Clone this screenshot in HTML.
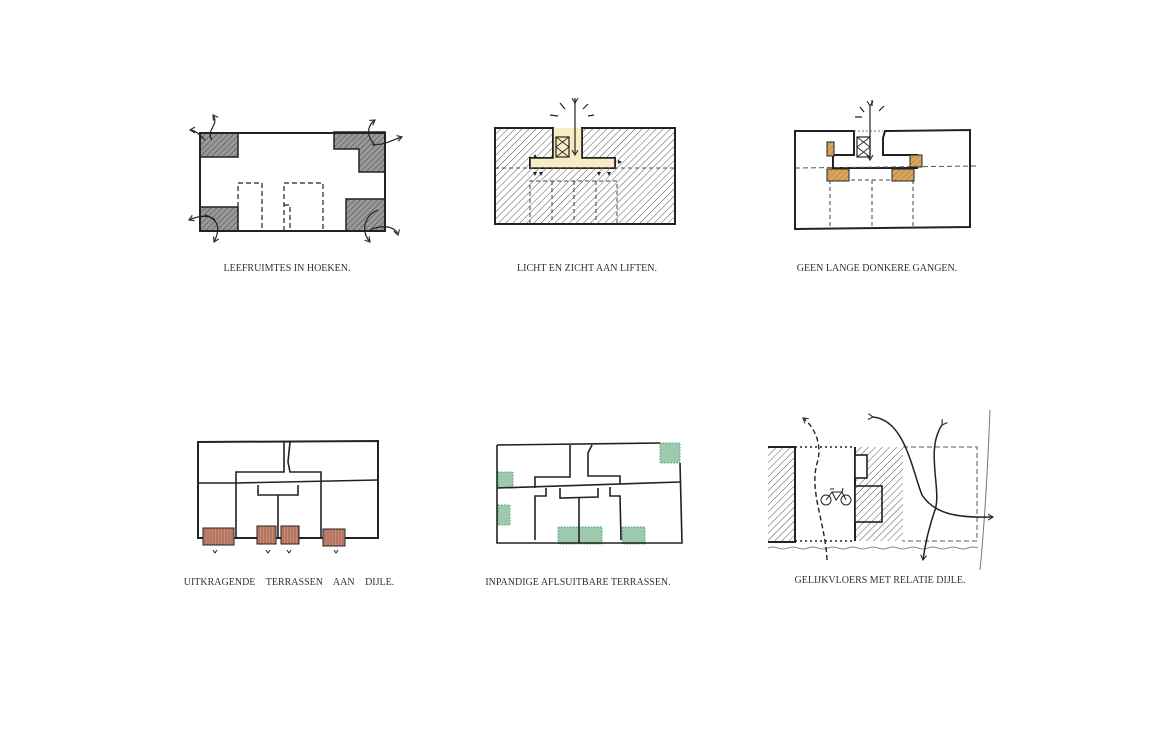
<!DOCTYPE html>
<html><head><meta charset="utf-8"><style>
html,body{margin:0;padding:0;background:#fff;}
svg{display:block;}
text{font-family:"Liberation Serif",serif;font-size:10px;fill:#333;text-anchor:middle;}
</style></head><body>
<svg width="1170" height="731" viewBox="0 0 1170 731" xmlns="http://www.w3.org/2000/svg">
<defs>
<pattern id="h" width="5" height="5" patternUnits="userSpaceOnUse" patternTransform="rotate(45)">
<rect width="5" height="5" fill="#fff"/><line x1="0" y1="0" x2="0" y2="5" stroke="#555" stroke-width="1"/></pattern>
<pattern id="hd" width="4" height="4" patternUnits="userSpaceOnUse" patternTransform="rotate(45)">
<rect width="4" height="4" fill="#999"/><line x1="0" y1="0" x2="0" y2="4" stroke="#444" stroke-width="1"/></pattern>
<pattern id="ter" width="3" height="3" patternUnits="userSpaceOnUse">
<rect width="3" height="3" fill="#c98a76"/><line x1="1" y1="0" x2="1" y2="3" stroke="#8a4a3a" stroke-width="0.7"/></pattern>
<pattern id="or" width="4" height="4" patternUnits="userSpaceOnUse" patternTransform="rotate(45)">
<rect width="4" height="4" fill="#d9a55e"/><line x1="0" y1="0" x2="0" y2="4" stroke="#a06a2a" stroke-width="0.8"/></pattern>
<marker id="a" markerWidth="8" markerHeight="8" refX="5" refY="4" orient="auto" markerUnits="userSpaceOnUse"><path d="M0,1 L5,4 L0,7" fill="none" stroke="#333" stroke-width="1.2"/></marker>
</defs>
<g stroke="#222" fill="none" stroke-width="2">

<!-- Diagram 1 -->
<rect x="200" y="133" width="38" height="24" fill="url(#hd)" stroke-width="1.5"/>
<path d="M334,132 L385,132 L385,172 L359,172 L359,149 L334,149 Z" fill="url(#hd)" stroke-width="1.5"/>
<rect x="200" y="207" width="38" height="24" fill="url(#hd)" stroke-width="1.5"/>
<path d="M346,199 L385,199 L385,231 L346,231 Z" fill="url(#hd)" stroke-width="1.5"/>
<rect x="200" y="133" width="185" height="98"/>
<g stroke-dasharray="5,3" stroke-width="1.2">
<path d="M238,231 L238,183 L262,183 L262,231"/>
<path d="M284,231 L284,183 L323,183 L323,231 M284,205 L290,205 L290,231"/>
</g>
<g stroke-width="1.2">
<path d="M212,140 C205,130 220,125 213,115" marker-end="url(#a)"/>
<path d="M205,140 C200,135 195,130 190,130" marker-end="url(#a)"/>
<path d="M375,145 C365,135 368,125 375,120" marker-end="url(#a)"/>
<path d="M372,145 C385,145 392,140 402,137" marker-end="url(#a)"/>
<path d="M215,220 C210,215 200,215 189,220" marker-end="url(#a)"/>
<path d="M205,215 C220,220 220,230 214,242" marker-end="url(#a)"/>
<path d="M370,230 C380,225 395,225 398,235" marker-end="url(#a)"/>
<path d="M378,210 C365,215 360,230 370,242" marker-end="url(#a)"/>
</g>

<!-- Diagram 2 -->
<path d="M495,128 L553,128 L553,158 L530,158 L530,168 L615,168 L615,158 L582,158 L582,128 L675,128 L675,224 L495,224 Z" fill="url(#h)"/>
<path d="M553,128 L582,128 L582,158 L615,158 L615,168 L530,168 L530,158 L553,158 Z" fill="#f8ecc4" stroke="none"/>
<path d="M553,128 L553,158 L530,158 L530,168 L615,168 L615,158 L582,158 L582,128" stroke-width="1.6"/>
<rect x="556" y="137" width="13" height="20" stroke-width="1.2" fill="#f8ecc4"/>
<path d="M556,137 L569,147 M569,137 L556,147 M556,147 L569,157 M569,147 L556,157" stroke-width="0.8"/>
<path d="M495,168 L675,168" stroke-dasharray="4,3" stroke-width="1" stroke="#555"/>
<g stroke-dasharray="4,3" stroke-width="1" stroke="#444">
<path d="M530,224 L530,181 L617,181 L617,224 M552,181 L552,224 M574,181 L574,224 M596,181 L596,224"/>
</g>
<path d="M575,103 L575,155" stroke-width="1.2" marker-end="url(#a)" marker-start="url(#a)"/>
<path d="M560,103 L565,109 M575,98 L575,104 M588,104 L583,109 M550,115 L558,116 M594,115 L588,116" stroke-width="1.2"/>
<g fill="#222" stroke="none">
<path d="M533,158 l2,-4 l2,4z"/><path d="M618,160 l4,2 l-4,2z"/>
<path d="M533,172 l4,0 l-2,4z"/><path d="M539,172 l4,0 l-2,4z"/>
<path d="M597,172 l4,0 l-2,4z"/><path d="M607,172 l4,0 l-2,4z"/>
</g>

<!-- Diagram 3 -->
<path d="M795,131 L854,131 L854,155 L833,155 L833,168 L917,168 L917,155 L883,155 L883,138 L885,131 L970,130 L970,227 L795,229 Z"/>
<path d="M795,168 L977,166" stroke-dasharray="5,3" stroke-width="1" stroke="#555"/>
<path d="M854,131 L883,131" stroke-dasharray="2,2" stroke-width="1" stroke="#777"/>
<g stroke-dasharray="4,3" stroke-width="1" stroke="#444"><path d="M830,180 L830,229 M872,180 L872,228 M913,180 L913,227 M830,180 L913,180"/></g>
<rect x="857" y="137" width="13" height="20" stroke-width="1.2"/>
<path d="M857,137 L870,147 M870,137 L857,147 M857,147 L870,157 M870,147 L857,157" stroke-width="0.8"/>
<path d="M870,106 L870,160" stroke-width="1.2" marker-end="url(#a)" marker-start="url(#a)"/>
<path d="M860,107 L864,112 M872,100 L872,106 M884,106 L879,111 M855,117 L862,117" stroke-width="1.2"/>
<g stroke-width="1">
<rect x="827" y="142" width="7" height="14" fill="url(#or)"/>
<rect x="910" y="155" width="12" height="12" fill="url(#or)"/>
<rect x="827" y="169" width="22" height="12" fill="url(#or)"/>
<rect x="892" y="169" width="22" height="12" fill="url(#or)"/>
</g>

<!-- Diagram 4 -->
<path d="M198,442 L378,441 L378,538 L198,538 Z"/>
<g stroke-width="1.6">
<path d="M284,442 L284,472 L236,472 L236,538 M290,442 L288,462 L290,472 L321,472 L321,538"/>
<path d="M236,483 L378,480 M198,483 L236,483"/>
<path d="M258,485 L258,495 L298,495 L298,485 M278,495 L278,538"/>
</g>
<g stroke-width="1"><rect x="203" y="528" width="31" height="17" fill="url(#ter)"/>
<rect x="257" y="526" width="19" height="18" fill="url(#ter)"/>
<rect x="281" y="526" width="18" height="18" fill="url(#ter)"/>
<rect x="323" y="529" width="22" height="17" fill="url(#ter)"/></g>
<path d="M213,550 l2,3 l2,-3 M266,550 l2,3 l2,-3 M287,550 l2,3 l2,-3 M334,550 l2,3 l2,-3" stroke-width="1"/>

<!-- Diagram 5 -->
<g fill="#9fc9ad" stroke="#4a7" stroke-dasharray="1.5,1.5" stroke-width="1">
<rect x="660" y="443" width="20" height="20"/><rect x="498" y="472" width="15" height="16"/>
<rect x="498" y="505" width="12" height="20"/><rect x="558" y="527" width="44" height="17"/>
<rect x="622" y="527" width="23" height="17"/></g>
<g stroke-width="1.6">
<path d="M497,445 L660,443 M680,463 L682,543 L497,543 L497,445"/>
<path d="M570,445 L570,477 L535,477 L535,488 M592,445 L588,453 L588,476 L620,476 L620,484"/>
<path d="M497,488 L680,482"/>
<path d="M546,488 L546,496 L535,496 L535,540 M560,488 L560,498 L598,497 L598,488 M579,498 L579,543 M610,487 L610,496 L620,496 L621,540"/>
</g>

<!-- Diagram 6 -->
<rect x="768" y="447" width="27" height="95" fill="url(#h)" stroke="none"/>
<path d="M768,447 L795,447 L795,542 L768,542" stroke-width="2"/>
<rect x="855" y="447" width="48" height="94" fill="url(#h)" stroke="none"/>
<path d="M855,447 L855,541" stroke-width="2"/>
<rect x="855" y="455" width="12" height="23" stroke-width="1.6" fill="#fff"/>
<rect x="855" y="486" width="27" height="36" stroke-width="1.6" fill="url(#h)"/>
<path d="M795,447 L855,447 M795,541 L855,541" stroke-dasharray="2,3" stroke-width="1.6"/>
<path d="M903,447 L977,447 L977,541 L903,541" stroke-dasharray="5,3" stroke-width="1" stroke="#555"/>
<path d="M768,548 q5,-2 10,0 t10,0 t10,0 t10,0 t10,0 t10,0 t10,0 t10,0 t10,0 t10,0 t10,0 t10,0 t10,0 t10,0 t10,0 t10,0 t10,0 t10,0 t10,0 t10,0 t10,0" stroke-width="0.8" stroke="#666"/>
<path d="M990,410 C988,460 985,520 980,570" stroke-width="1" stroke="#777"/>
<path d="M827,560 C825,520 808,490 818,460 C822,440 812,425 803,418" stroke-dasharray="5,3" stroke-width="1.4" marker-end="url(#a)"/>
<path d="M873,417 C905,420 912,470 922,495 C935,515 960,518 993,517" stroke-width="1.5" marker-end="url(#a)" marker-start="url(#a)"/>
<path d="M942,425 C925,450 942,490 935,510 C928,530 925,545 923,560" stroke-width="1.5" marker-end="url(#a)" marker-start="url(#a)"/>
<g stroke-width="1"><circle cx="826" cy="500" r="5"/><circle cx="846" cy="500" r="5"/>
<path d="M826,500 L832,492 L842,492 L846,500 M832,492 L836,500 L842,492 M830,489 L834,489 M842,492 L843,488"/></g>
</g>

<text x="287" y="271">LEEFRUIMTES IN HOEKEN.</text>
<text x="587" y="271">LICHT EN ZICHT AAN LIFTEN.</text>
<text x="877" y="271">GEEN LANGE DONKERE GANGEN.</text>
<text x="289" y="585" style="word-spacing:8px">UITKRAGENDE TERRASSEN AAN DIJLE.</text>
<text x="578" y="585">INPANDIGE AFLSUITBARE TERRASSEN.</text>
<text x="880" y="583">GELIJKVLOERS MET RELATIE DIJLE.</text>
</svg>
</body></html>
